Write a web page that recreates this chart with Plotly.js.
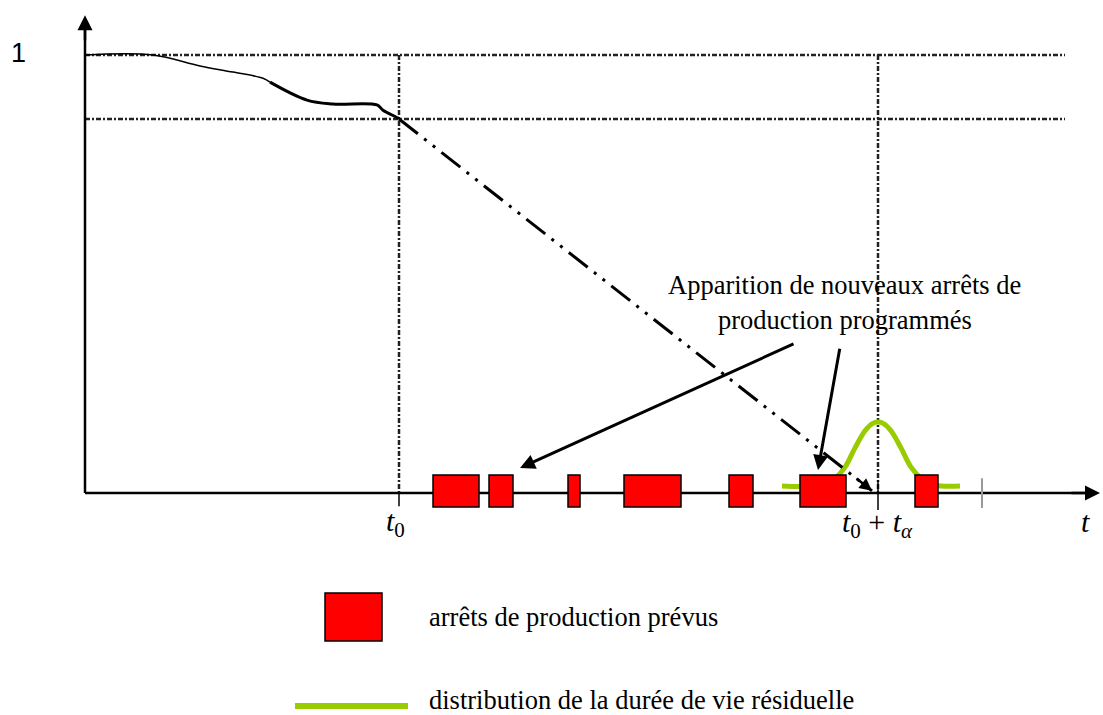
<!DOCTYPE html>
<html>
<head>
<meta charset="utf-8">
<script src="https://cdn.plot.ly/plotly-3.0.1.min.js"></script>
<style>html,body{margin:0;padding:0;background:#fff;}#chart{width:1103px;height:715px;}</style>
</head>
<body>
<div id="chart"></div>
<script>
// ---- data (t in arbitrary time units, y = probability) ----
var survThinT = [0, 68, 115, 148, 178, 185];
var survThinY = [1.0, 1.0, 0.975, 0.961, 0.947, 0.938];
var survThickT = [185, 222, 248, 292, 298, 313, 314];
var survThickY = [0.938, 0.897, 0.888, 0.886, 0.874, 0.856, 0.854];
var extrapT = [314, 787];
var extrapY = [0.854, 0.005];
var t0 = 314;
var t0ta = 793;
var alphaLevel = 0.854;
var boxStart = [348, 404, 483, 539, 644, 715, 830];
var boxEnd   = [394, 428, 495, 596, 668, 761, 853];
var boxTop = 0.041, boxBottom = -0.032;
var distT = [697, 735, 750, 760, 770, 780, 787, 793, 799, 806, 816, 826, 836, 850, 875];
var distY = [0.016, 0.018, 0.034, 0.059, 0.103, 0.142, 0.158, 0.162, 0.158, 0.142, 0.103, 0.059, 0.034, 0.018, 0.016];
var legendLabels = ["arrêts de production prévus", "distribution de la durée de vie résiduelle"];
var noteLines = ["Apparition de nouveaux arrêts de", "production programmés"];

var serif = "Times New Roman";
var sans = "Arial";
var green = "#99cc00";
var dashDot = "5px,2px,2px,2px";

var traces = [
  {x: distT, y: distY, mode: "lines", line: {color: green, width: 5, shape: "spline"}, hoverinfo: "skip"},
  {x: [210, 323], y: [-0.486, -0.486], mode: "lines", line: {color: green, width: 6}, hoverinfo: "skip"},
  {x: survThinT, y: survThinY, mode: "lines", line: {color: "#000", width: 1.5, shape: "spline"}, hoverinfo: "skip"},
  {x: survThickT, y: survThickY, mode: "lines", line: {color: "#000", width: 3, shape: "spline"}, hoverinfo: "skip"},
  {x: extrapT, y: extrapY, mode: "lines", line: {color: "#000", width: 3, dash: "24px,8px,3px,8px,3px,8px"}, hoverinfo: "skip"}
];

var shapes = [
  {type: "line", x0: 0, x1: 980, y0: 1, y1: 1, line: {color: "#222", width: 2.5, dash: dashDot}, layer: "below"},
  {type: "line", x0: 0, x1: 980, y0: alphaLevel, y1: alphaLevel, line: {color: "#222", width: 2.5, dash: dashDot}, layer: "below"},
  {type: "line", x0: t0, x1: t0, y0: 1, y1: 0, line: {color: "#222", width: 2.5, dash: dashDot}, layer: "below"},
  {type: "line", x0: t0ta, x1: t0ta, y0: 1, y1: 0, line: {color: "#222", width: 2.5, dash: dashDot}, layer: "below"},
  {type: "line", x0: 0, x1: 0, y0: 0, y1: 1.07, line: {color: "#000", width: 2.5}},
  {type: "line", x0: 0, x1: 1000, y0: 0, y1: 0, line: {color: "#000", width: 2.5}},
  {type: "line", x0: t0, x1: t0, y0: 0.0, y1: -0.03, line: {color: "#000", width: 1.5}},
  {type: "line", x0: t0ta, x1: t0ta, y0: 0.03, y1: -0.039, line: {color: "#000", width: 1.5}},
  {type: "line", x0: 897, x1: 897, y0: 0.034, y1: -0.034, line: {color: "#999", width: 2}},
  {type: "rect", x0: 240, x1: 297, y0: -0.228, y1: -0.338, fillcolor: "#ff0000", line: {color: "#000", width: 1.5}}
];
for (var i = 0; i < boxStart.length; i++) {
  shapes.push({type: "rect", x0: boxStart[i], x1: boxEnd[i], y0: boxBottom, y1: boxTop,
    fillcolor: "#ff0000", line: {color: "#000", width: 1.5}, layer: "above"});
}

function arrow(x, y, ax, ay, w, s) {
  return {x: x, y: y, ax: ax, ay: ay, xref: "x", yref: "y", axref: "x", ayref: "y",
    showarrow: true, arrowhead: 2, arrowsize: s || 1, arrowwidth: w, arrowcolor: "#000", text: ""};
}
function txt(x, y, s, size, fam, xanchor) {
  return {x: x, y: y, xref: "x", yref: "y", text: s, showarrow: false, xanchor: xanchor || "center",
    yanchor: "middle", borderpad: 0, font: {family: fam, size: size, color: "#000"}};
}

var annotations = [
  arrow(0, 1.091, 0, 1.03, 2.5, 1.2),
  arrow(1015, 0, 985, 0, 2.5, 1.2),
  arrow(787, 0.005, 770, 0.036, 2.5),
  arrow(435, 0.057, 710, 0.342, 3),
  arrow(733, 0.0525, 755, 0.333, 3),
  txt(-67, 1.005, "1", 27, sans),
  txt(310, -0.068, "<i>t</i><sub>0</sub>", 30, serif),
  txt(792, -0.070, "<i>t</i><sub>0</sub> + <i>t</i><sub><i>α</i></sub>", 30, serif),
  txt(1000, -0.066, "<i>t</i>", 30, serif),
  txt(759, 0.475, noteLines[0], 26.5, serif),
  txt(760, 0.395, noteLines[1], 26.5, serif),
  txt(343, -0.283, legendLabels[0], 26.5, serif, "left"),
  txt(343, -0.472, legendLabels[1], 26.5, serif, "left")
];

var layout = {
  width: 1103, height: 715,
  margin: {l: 0, r: 0, t: 0, b: 0},
  font: {family: serif, size: 22, color: "#000"},
  paper_bgcolor: "#fff", plot_bgcolor: "#fff",
  showlegend: false,
  xaxis: {range: [-85, 1018], visible: false, fixedrange: true},
  yaxis: {range: [-0.5068, 1.1256], visible: false, fixedrange: true},
  shapes: shapes,
  annotations: annotations
};

Plotly.newPlot("chart", traces, layout, {displayModeBar: false, staticPlot: true});
</script>
</body>
</html>
